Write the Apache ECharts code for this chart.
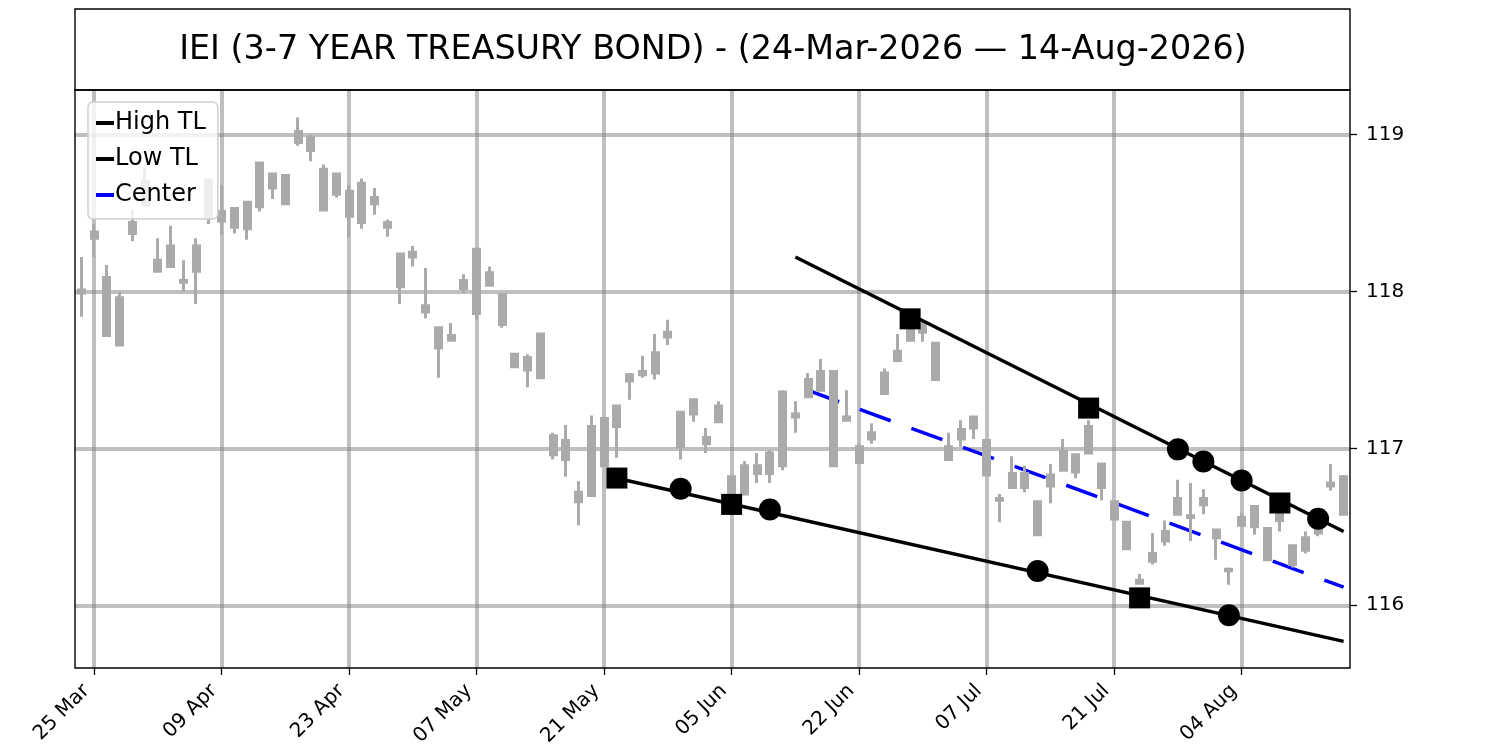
<!DOCTYPE html>
<html>
<head>
<meta charset="utf-8">
<title>IEI trend lines</title>
<script src="https://cdn.jsdelivr.net/npm/echarts@6/dist/echarts.min.js"></script>
<style>
  html, body { margin: 0; padding: 0; background: #fff; }
  #chart { width: 1500px; height: 750px; }
</style>
</head>
<body>
<div id="chart"></div>
<script>
// x positions are trading-day indices, 0 = 24-Mar-2026 ... 99 = 14-Aug-2026
const tickIdx = [1, 11, 21, 31, 41, 51, 61, 71, 81, 91];
const tickLabels = ['25 Mar', '09 Apr', '23 Apr', '07 May', '21 May', '05 Jun', '22 Jun', '07 Jul', '21 Jul', '04 Aug'];
const yTicks = [116, 117, 118, 119];

// candle bodies and wicks (one entry per trading day)
const bodyTop = [
  118.01, 118.38, 118.09, 117.96, 118.44, 118.70, 118.20, 118.29, 118.07, 118.29,
  118.71, 118.51, 118.53, 118.57, 118.82, 118.75, 118.74, 119.02, 118.98, 118.78,
  118.75, 118.64, 118.69, 118.60, 118.44, 118.24, 118.25, 117.91, 117.77, 117.72,
  118.07, 118.27, 118.12, 117.98, 117.60, 117.58, 117.73, 117.08, 117.05, 116.72,
  117.14, 117.19, 117.27, 117.47, 117.49, 117.61, 117.74, 117.23, 117.31, 117.07,
  117.27, 116.82, 116.89, 116.89, 116.97, 117.36, 117.22, 117.44, 117.49, 117.49,
  117.20, 117.01, 117.10, 117.48, 117.62, 117.82, 117.79, 117.67, 117.01, 117.12,
  117.20, 117.05, 116.68, 116.84, 116.84, 116.66, 116.83, 116.98, 116.96, 117.14,
  116.90, 116.66, 116.53, 116.16, 116.33, 116.47, 116.68, 116.57, 116.68, 116.48,
  116.23, 116.56, 116.63, 116.49, 116.58, 116.38, 116.43, 116.50, 116.78, 116.82
];
const bodyBot = [
  117.99, 118.34, 117.72, 117.66, 118.37, 118.55, 118.13, 118.16, 118.06, 118.13,
  118.47, 118.45, 118.41, 118.40, 118.54, 118.66, 118.56, 118.95, 118.90, 118.52,
  118.62, 118.48, 118.44, 118.56, 118.41, 118.03, 118.22, 117.87, 117.64, 117.69,
  118.02, 117.86, 118.04, 117.79, 117.52, 117.50, 117.45, 116.96, 116.93, 116.66,
  116.70, 116.89, 117.14, 117.43, 117.47, 117.48, 117.71, 117.01, 117.22, 117.03,
  117.17, 116.71, 116.71, 116.84, 116.84, 116.89, 117.20, 117.33, 117.37, 116.89,
  117.18, 116.91, 117.06, 117.35, 117.56, 117.69, 117.74, 117.44, 116.93, 117.06,
  117.13, 116.83, 116.67, 116.75, 116.75, 116.45, 116.76, 116.86, 116.85, 116.97,
  116.75, 116.55, 116.36, 116.14, 116.28, 116.41, 116.58, 116.56, 116.64, 116.43,
  116.22, 116.51, 116.50, 116.29, 116.54, 116.26, 116.35, 116.46, 116.76, 116.58
];
const lowPx = [
  117.84, 118.22, 117.71, 117.65, 118.32, 118.55, 118.13, 118.16, 118.00, 117.92,
  118.43, 118.36, 118.37, 118.33, 118.51, 118.59, 118.56, 118.93, 118.83, 118.52,
  118.60, 118.35, 118.40, 118.49, 118.35, 117.92, 118.16, 117.83, 117.45, 117.68,
  117.99, 117.82, 118.03, 117.77, 117.52, 117.39, 117.45, 116.93, 116.82, 116.51,
  116.70, 116.88, 116.94, 117.31, 117.45, 117.44, 117.66, 116.93, 117.17, 116.97,
  117.16, 116.70, 116.71, 116.78, 116.78, 116.86, 117.10, 117.32, 117.37, 116.88,
  117.17, 116.90, 117.03, 117.35, 117.55, 117.69, 117.68, 117.44, 116.93, 117.01,
  117.06, 116.83, 116.53, 116.75, 116.72, 116.44, 116.65, 116.86, 116.81, 116.97,
  116.67, 116.54, 116.36, 116.14, 116.26, 116.38, 116.58, 116.41, 116.58, 116.29,
  116.13, 116.50, 116.45, 116.28, 116.47, 116.24, 116.33, 116.44, 116.73, 116.57
];
const highPx = [
  118.22, 118.43, 118.17, 118.00, 118.52, 118.79, 118.34, 118.42, 118.20, 118.34,
  118.72, 118.68, 118.53, 118.57, 118.82, 118.75, 118.74, 119.11, 119.00, 118.81,
  118.75, 118.68, 118.72, 118.66, 118.46, 118.24, 118.29, 118.15, 117.77, 117.80,
  118.11, 118.27, 118.16, 117.99, 117.60, 117.60, 117.73, 117.10, 117.15, 116.79,
  117.21, 117.19, 117.27, 117.48, 117.59, 117.73, 117.82, 117.23, 117.31, 117.13,
  117.30, 116.83, 116.92, 116.97, 116.99, 117.37, 117.30, 117.48, 117.57, 117.50,
  117.37, 117.03, 117.16, 117.51, 117.73, 117.85, 117.81, 117.67, 117.10, 117.18,
  117.20, 117.06, 116.71, 116.95, 116.89, 116.66, 116.90, 117.06, 116.96, 117.18,
  116.90, 116.67, 116.53, 116.20, 116.46, 116.54, 116.80, 116.78, 116.74, 116.48,
  116.24, 116.59, 116.63, 116.49, 116.60, 116.38, 116.47, 116.52, 116.90, 116.83
];

// trend lines [index, price]
const highTL = [[56, 118.22], [99, 116.47]];
const lowTL = [[42, 116.81], [99, 115.77]];
const centerTL = [[57, 117.37], [99, 116.115]];
const highSquares = [[65, 117.826], [79, 117.257], [94, 116.652]];
const highCircles = [[86, 116.994], [88, 116.917], [91, 116.796], [97, 116.552]];
const lowSquares = [[42, 116.811], [51, 116.643], [83, 116.047]];
const lowCircles = [[47, 116.743], [54, 116.61], [75, 116.218], [90, 115.936]];

const FONT = 'DejaVu Sans';

let candles = bodyTop.map(function(top, i) {
	return [i, bodyBot[i], top, lowPx[i], highPx[i]];
});

let chart = echarts.init(document.getElementById('chart'));

let option = {
	animation: false,
	backgroundColor: '#fff',
	textStyle: { fontFamily: FONT },
	grid: {
		left: 75,
		right: 150,
		top: 90,
		bottom: 82
	},
	graphic: [{
		type: 'rect',
		z: 100,
		shape: { x: 75, y: 9, width: 1275, height: 81 },
		style: { fill: 'none', stroke: '#000', lineWidth: 1.4 }
	}, {
		type: 'rect',
		z: 100,
		shape: { x: 75, y: 90, width: 1275, height: 578 },
		style: { fill: 'none', stroke: '#000', lineWidth: 1.4 }
	}, {
		type: 'text',
		z: 100,
		style: {
			x: 713,
			y: 50,
			text: 'IEI (3-7 YEAR TREASURY BOND) - (24-Mar-2026 \u2014 14-Aug-2026)',
			font: '33.4px "DejaVu Sans"',
			fill: '#000',
			textAlign: 'center',
			textVerticalAlign: 'middle'
		}
	}],
	legend: {
		orient: 'vertical',
		left: 88,
		top: 102,
		padding: [9, 12, 12, 8],
		itemGap: 12,
		itemWidth: 18,
		itemHeight: 4,
		backgroundColor: 'rgba(255,255,255,0.8)',
		borderColor: '#d0d0d0',
		borderWidth: 1.5,
		borderRadius: 5,
		textStyle: {
			fontFamily: FONT,
			fontSize: 24,
			lineHeight: 24,
			color: '#000',
			padding: [0, 0, 0, -4]
		},
		data: [
			{ name: 'High TL', icon: 'rect' },
			{ name: 'Low TL', icon: 'rect' },
			{ name: 'Center', icon: 'rect' }
		]
	},
	xAxis: {
		type: 'value',
		min: -0.5,
		max: 99.5,
		axisLine: { show: false, onZero: false },
		axisTick: {
			show: true,
			customValues: tickIdx,
			length: 7,
			lineStyle: { color: '#000', width: 1.3 }
		},
		axisLabel: {
			customValues: tickIdx,
			rotate: 45,
			margin: 12,
			padding: [0, 11, 0, 0],
			fontFamily: FONT,
			fontSize: 20,
			color: '#000',
			formatter: function(v) {
				return tickLabels[tickIdx.indexOf(v)];
			}
		},
		splitLine: {
			show: true,
			lineStyle: { color: 'rgba(128,128,128,0.5)', width: 4 }
		}
	},
	yAxis: {
		type: 'value',
		position: 'right',
		min: 115.6,
		max: 119.285,
		axisLine: { show: false, onZero: false },
		axisTick: {
			show: true,
			inside: false,
			customValues: yTicks,
			length: 7,
			lineStyle: { color: '#000', width: 1.3 }
		},
		axisLabel: {
			customValues: yTicks,
			margin: 16,
			fontFamily: FONT,
			fontSize: 20,
			color: '#000'
		},
		splitLine: {
			show: true,
			lineStyle: { color: 'rgba(128,128,128,0.5)', width: 4 }
		}
	},
	series: [{
		name: 'Center',
		type: 'line',
		z: 1,
		data: centerTL,
		symbol: 'none',
		color: '#0000ff',
		lineStyle: { color: '#0000ff', width: 3.5, type: [33, 22] },
		itemStyle: { color: '#0000ff' }
	}, {
		name: 'IEI',
		type: 'candlestick',
		z: 2,
		data: candles,
		barWidth: 6.5,
		itemStyle: {
			color: '#aaaaaa',
			color0: '#aaaaaa',
			borderColor: '#aaaaaa',
			borderColor0: '#aaaaaa',
			borderWidth: 3
		}
	}, {
		name: 'High TL',
		type: 'line',
		z: 3,
		data: highTL,
		symbol: 'none',
		color: '#000',
		lineStyle: { color: '#000', width: 3.5 },
		itemStyle: { color: '#000' }
	}, {
		name: 'Low TL',
		type: 'line',
		z: 3,
		data: lowTL,
		symbol: 'none',
		color: '#000',
		lineStyle: { color: '#000', width: 3.5 },
		itemStyle: { color: '#000' }
	}, {
		name: 'high touches',
		type: 'scatter',
		z: 4,
		data: highSquares,
		symbol: 'rect',
		symbolSize: 21,
		itemStyle: { color: '#000', opacity: 1 }
	}, {
		name: 'high pivots',
		type: 'scatter',
		z: 4,
		data: highCircles,
		symbol: 'circle',
		symbolSize: 22,
		itemStyle: { color: '#000', opacity: 1 }
	}, {
		name: 'low touches',
		type: 'scatter',
		z: 4,
		data: lowSquares,
		symbol: 'rect',
		symbolSize: 21,
		itemStyle: { color: '#000', opacity: 1 }
	}, {
		name: 'low pivots',
		type: 'scatter',
		z: 4,
		data: lowCircles,
		symbol: 'circle',
		symbolSize: 22,
		itemStyle: { color: '#000', opacity: 1 }
	}]
};

chart.setOption(option);
</script>
</body>
</html>
